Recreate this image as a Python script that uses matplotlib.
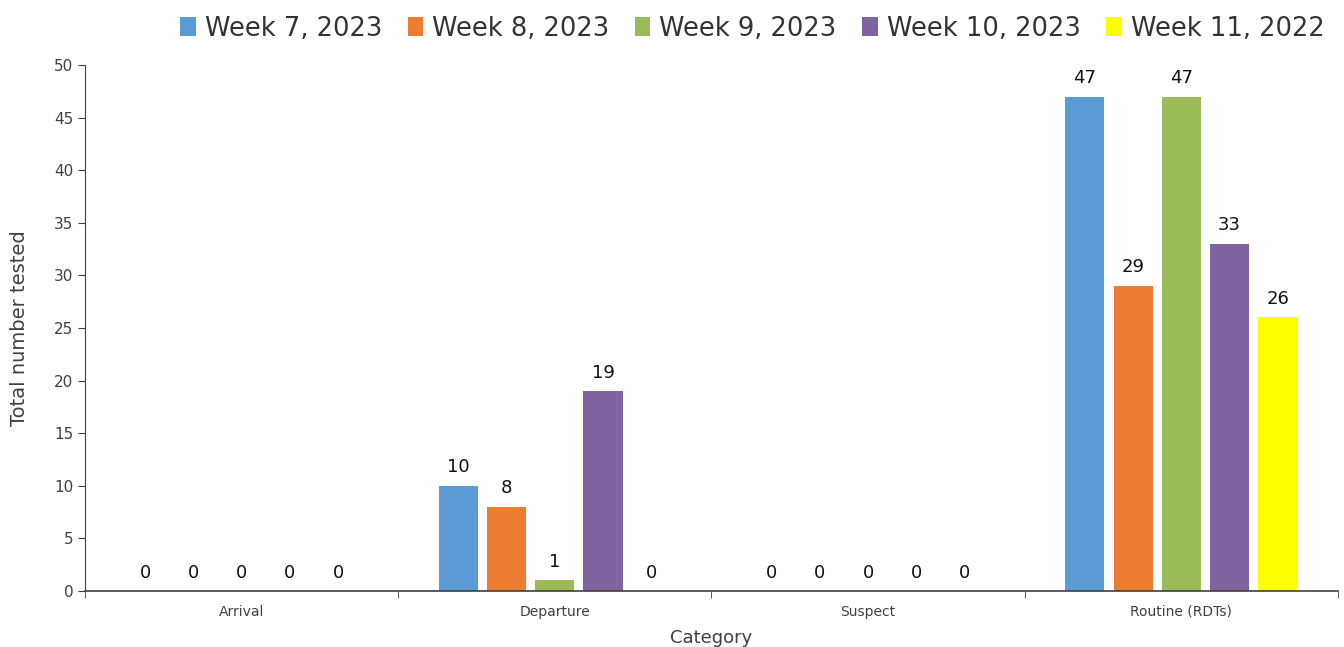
import numpy as np
import matplotlib
matplotlib.use("Agg")
import matplotlib.pyplot as plt

categories = ["Arrival", "Departure", "Suspect", "Routine (RDTs)"]
weeks = ["Week 7, 2023", "Week 8, 2023", "Week 9, 2023", "Week 10, 2023", "Week 11, 2022"]
week7 = [0, 10, 0, 47]
week8 = [0, 8, 0, 29]
week9 = [0, 1, 0, 47]
week10 = [0, 19, 0, 33]
week11 = [0, 0, 0, 26]
colors = ["#5B9BD5", "#ED7D31", "#9BBB59", "#8064A2", "#FFFF00"]

series = [week7, week8, week9, week10, week11]

fig = plt.figure(figsize=(13.44, 6.47), dpi=100)
ax = fig.add_axes([0.0632, 0.0866, 0.9323, 0.8129])

x = np.arange(len(categories))
step = 0.154
width = 0.125
for i, (vals, name, c) in enumerate(zip(series, weeks, colors)):
    pos = x + (i - 2) * step
    ax.bar(pos, vals, width, color=c, label=name)
    for p, v in zip(pos, vals):
        ax.text(p, v + 0.9, str(v), ha="center", va="bottom", fontsize=13, color="#111111")

ax.set_xlim(-0.5, len(categories) - 0.5)
ax.set_ylim(0, 50)
ax.set_yticks(range(0, 51, 5))
ax.set_xticks(x)
ax.set_xticklabels(categories, fontsize=10, color="#404040")
ax.set_xticks(np.arange(-0.5, len(categories), 1), minor=True)
ax.tick_params(axis="x", which="major", length=0, pad=10)
ax.tick_params(axis="x", which="minor", length=5, direction="out", color="#404040")
ax.tick_params(axis="y", labelsize=11, length=5, color="#404040", labelcolor="#404040")

for s in ["top", "right"]:
    ax.spines[s].set_visible(False)
for s in ["left", "bottom"]:
    ax.spines[s].set_color("#404040")
ax.spines["bottom"].set_linewidth(1.2)

ax.set_ylabel("Total number tested", fontsize=14, color="#404040")
ax.yaxis.set_label_coords(-0.045, 0.5)
ax.set_xlabel("Category", fontsize=13, color="#404040")
ax.xaxis.set_label_coords(0.5, -0.072)

ax.legend(loc="lower right", bbox_to_anchor=(0.9975, 1.025), ncol=5, frameon=False,
          fontsize=18.5, handlelength=0.6, handleheight=0.75, handletextpad=0.35,
          columnspacing=1.0, borderaxespad=0, labelcolor="#333333")

plt.savefig("out.png", dpi=100)
